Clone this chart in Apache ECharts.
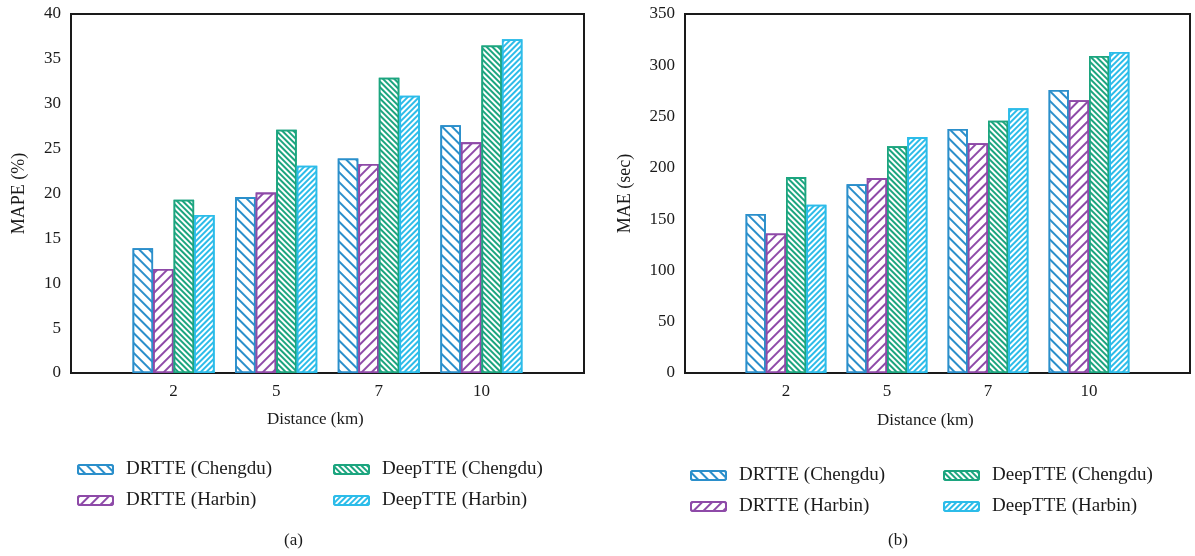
<!DOCTYPE html>
<html>
<head>
<meta charset="utf-8">
<script src="https://cdn.jsdelivr.net/npm/echarts@6/dist/echarts.min.js"></script>
<style>
  html, body { margin: 0; padding: 0; background: #fff; }
  #chart { width: 1195px; height: 556px; }
</style>
</head>
<body>
<div id="chart"></div>
<script>
// distances (km), padded with empty slots so groups sit at 1..4 of 0..5
const distances = ['2', '5', '7', '10'];
const seriesNames = ['DRTTE (Chengdu)', 'DRTTE (Harbin)', 'DeepTTE (Chengdu)', 'DeepTTE (Harbin)'];

// (a) MAPE (%)
const mapeDrtteChengdu = [13.9, 19.6, 23.9, 27.6];
const mapeDrtteHarbin = [11.6, 20.1, 23.3, 25.7];
const mapeDeepChengdu = [19.3, 27.1, 32.9, 36.5];
const mapeDeepHarbin = [17.6, 23.1, 30.9, 37.2];

// (b) MAE (sec)
const maeDrtteChengdu = [155, 184, 238, 276];
const maeDrtteHarbin = [136, 190, 224, 266];
const maeDeepChengdu = [191, 221, 246, 309];
const maeDeepHarbin = [164, 230, 258, 313];

const colors = ['#2b8fcb', '#8e4aa8', '#1ca57f', '#2cbce9'];
const font = 'Liberation Serif';

const categories = [''].concat(distances, ['']);
const pad = arr => [null].concat(arr, [null]);

function hatch(i) {
  const dense = i >= 2;
  return {
    symbol: 'rect',
    symbolSize: 1,
    dashArrayX: [1, 0],
    dashArrayY: dense ? [1.3, 1.9] : [1.1, 4.7],
    rotation: (i % 2 === 0 ? 1 : -1) * Math.PI / 4,
    color: colors[i],
    backgroundColor: '#fff'
  };
}

function barSeries(name, i, data, axisIdx) {
  return {
    name: name,
    type: 'bar',
    xAxisIndex: axisIdx,
    yAxisIndex: axisIdx * 2,
    data: pad(data),
    barGap: 0,
    barCategoryGap: '20%',
    itemStyle: {
      color: '#fff',
      borderColor: colors[i],
      borderWidth: 1.8,
      decal: hatch(i)
    },
    emphasis: { disabled: true },
    silent: true
  };
}

function xAxis(gridIdx) {
  return {
    type: 'category',
    gridIndex: gridIdx,
    data: categories,
    boundaryGap: false,
    axisLine: { lineStyle: { color: '#1a1a1a', width: 2 } },
    axisTick: { inside: true, length: 4, lineStyle: { color: '#1a1a1a', width: 1.5 } },
    axisLabel: { color: '#1a1a1a', fontFamily: font, fontSize: 17, margin: 10 },
    splitLine: { show: false }
  };
}

function yAxes(gridIdx, max, interval, name, nameGap) {
  const base = {
    type: 'value',
    gridIndex: gridIdx,
    min: 0,
    max: max,
    interval: interval,
    splitLine: { show: false },
    axisLine: { show: true, lineStyle: { color: '#1a1a1a', width: 2 } },
    axisTick: { inside: true, length: 5, lineStyle: { color: '#1a1a1a', width: 1.5 } }
  };
  return [
    Object.assign({}, base, {
      position: 'left',
      name: name,
      nameLocation: 'middle',
      nameGap: nameGap,
      nameTextStyle: { color: '#1a1a1a', fontFamily: font, fontSize: 18 },
      axisLabel: { color: '#1a1a1a', fontFamily: font, fontSize: 17, margin: 10 }
    }),
    Object.assign({}, base, {
      position: 'right',
      axisLabel: { show: false }
    })
  ];
}

function legend(names, left, top) {
  return {
    data: names,
    left: left,
    top: top,
    orient: 'vertical',
    itemWidth: 35,
    itemHeight: 9,
    itemGap: 12,
    selectedMode: false,
    textStyle: { color: '#1a1a1a', fontFamily: font, fontSize: 19, padding: [0, 0, 0, 8] }
  };
}

const myChart = echarts.init(document.getElementById('chart'), null, { renderer: 'canvas' });

myChart.setOption({
  animation: false,
  aria: { enabled: false },
  grid: [
    { left: 71, top: 14, width: 513, height: 359, show: true, borderColor: '#1a1a1a', borderWidth: 2, backgroundColor: 'transparent' },
    { left: 685, top: 14, width: 505, height: 359, show: true, borderColor: '#1a1a1a', borderWidth: 2, backgroundColor: 'transparent' }
  ],
  xAxis: [xAxis(0), xAxis(1)],
  yAxis: yAxes(0, 40, 5, 'MAPE (%)', 43).concat(yAxes(1, 350, 50, 'MAE (sec)', 51)),
  legend: [
    legend([seriesNames[0], seriesNames[1]], 72, 455),
    legend([seriesNames[2], seriesNames[3]], 328, 455),
    legend([seriesNames[0], seriesNames[1]], 685, 461),
    legend([seriesNames[2], seriesNames[3]], 938, 461)
  ],
  graphic: [
    { type: 'text', left: 267, top: 411, style: { text: 'Distance (km)', font: '17px "Liberation Serif"', fill: '#1a1a1a' } },
    { type: 'text', left: 877, top: 412, style: { text: 'Distance (km)', font: '17px "Liberation Serif"', fill: '#1a1a1a' } },
    { type: 'text', left: 284, top: 532, style: { text: '(a)', font: '17px "Liberation Serif"', fill: '#1a1a1a' } },
    { type: 'text', left: 888, top: 532, style: { text: '(b)', font: '17px "Liberation Serif"', fill: '#1a1a1a' } }
  ],
  series: [
    barSeries(seriesNames[0], 0, mapeDrtteChengdu, 0),
    barSeries(seriesNames[1], 1, mapeDrtteHarbin, 0),
    barSeries(seriesNames[2], 2, mapeDeepChengdu, 0),
    barSeries(seriesNames[3], 3, mapeDeepHarbin, 0),
    barSeries(seriesNames[0], 0, maeDrtteChengdu, 1),
    barSeries(seriesNames[1], 1, maeDrtteHarbin, 1),
    barSeries(seriesNames[2], 2, maeDeepChengdu, 1),
    barSeries(seriesNames[3], 3, maeDeepHarbin, 1)
  ]
});
</script>
</body>
</html>
